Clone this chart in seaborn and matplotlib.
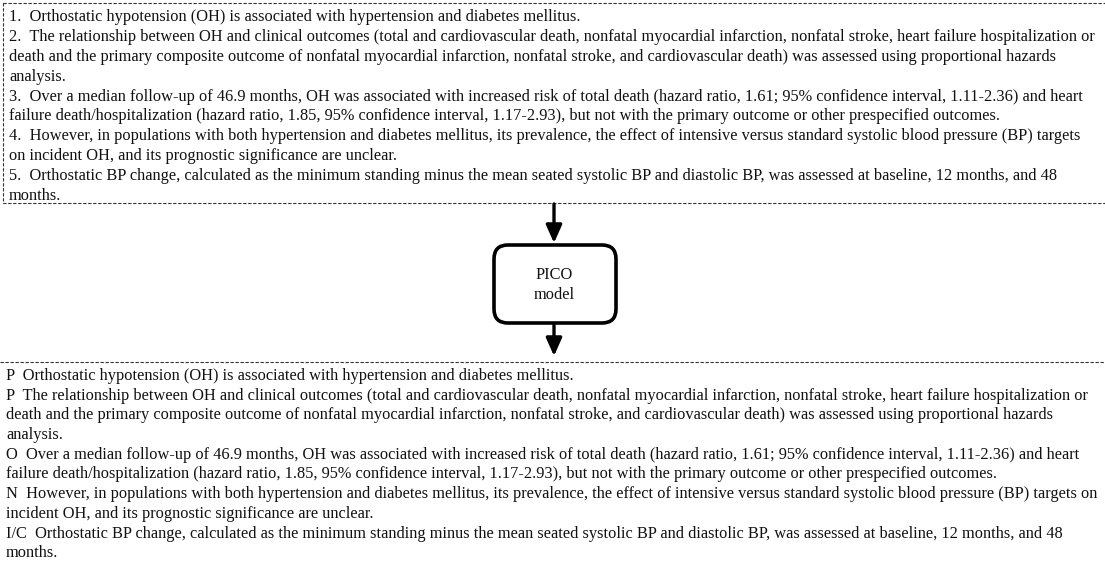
import matplotlib
matplotlib.use("Agg")
import matplotlib.pyplot as plt
import seaborn as sns
from matplotlib.patches import Rectangle, FancyBboxPatch

sns.set_theme(style="white")
plt.rcParams['font.family'] = ['Liberation Serif', 'DejaVu Serif']

# text of the two panels
top_lines = [
    "1.  Orthostatic hypotension (OH) is associated with hypertension and diabetes mellitus.",
    "2.  The relationship between OH and clinical outcomes (total and cardiovascular death, nonfatal myocardial infarction, nonfatal stroke, heart failure hospitalization or",
    "death and the primary composite outcome of nonfatal myocardial infarction, nonfatal stroke, and cardiovascular death) was assessed using proportional hazards",
    "analysis.",
    "3.  Over a median follow-up of 46.9 months, OH was associated with increased risk of total death (hazard ratio, 1.61; 95% confidence interval, 1.11-2.36) and heart",
    "failure death/hospitalization (hazard ratio, 1.85, 95% confidence interval, 1.17-2.93), but not with the primary outcome or other prespecified outcomes.",
    "4.  However, in populations with both hypertension and diabetes mellitus, its prevalence, the effect of intensive versus standard systolic blood pressure (BP) targets",
    "on incident OH, and its prognostic significance are unclear.",
    "5.  Orthostatic BP change, calculated as the minimum standing minus the mean seated systolic BP and diastolic BP, was assessed at baseline, 12 months, and 48",
    "months.",
]
bottom_lines = [
    "P  Orthostatic hypotension (OH) is associated with hypertension and diabetes mellitus.",
    "P  The relationship between OH and clinical outcomes (total and cardiovascular death, nonfatal myocardial infarction, nonfatal stroke, heart failure hospitalization or",
    "death and the primary composite outcome of nonfatal myocardial infarction, nonfatal stroke, and cardiovascular death) was assessed using proportional hazards",
    "analysis.",
    "O  Over a median follow-up of 46.9 months, OH was associated with increased risk of total death (hazard ratio, 1.61; 95% confidence interval, 1.11-2.36) and heart",
    "failure death/hospitalization (hazard ratio, 1.85, 95% confidence interval, 1.17-2.93), but not with the primary outcome or other prespecified outcomes.",
    "N  However, in populations with both hypertension and diabetes mellitus, its prevalence, the effect of intensive versus standard systolic blood pressure (BP) targets on",
    "incident OH, and its prognostic significance are unclear.",
    "I/C  Orthostatic BP change, calculated as the minimum standing minus the mean seated systolic BP and diastolic BP, was assessed at baseline, 12 months, and 48",
    "months.",
]
center_label = "PICO\nmodel"

W, H = 1105, 568
fig = plt.figure(figsize=(W / 100, H / 100), dpi=100)
ax = fig.add_axes([0, 0, 1, 1])
ax.set_xlim(0, W)
ax.set_ylim(H, 0)
ax.axis("off")

fs = 11.8
ink = "#111111"

# top dashed panel
ax.add_patch(Rectangle((3, 3), W + 10, 200, fill=False, ls=(0, (3, 1.5)),
                       lw=0.8, ec="#333333"))
for i, line in enumerate(top_lines):
    ax.text(9, 17 + i * 19.9, line, fontsize=fs, color=ink, va="center", ha="left")

# bottom panel top edge
ax.plot([0, W], [362, 362], ls=(0, (3, 1.5)), lw=0.8, color="#333333")
for i, line in enumerate(bottom_lines):
    ax.text(6, 376 + i * 19.7, line, fontsize=fs, color=ink, va="center", ha="left")

# arrows and rounded box
cx = 554
arrow_kw = dict(arrowstyle="-|>,head_length=0.9,head_width=0.4", lw=2.4, color="black",
                shrinkA=0, shrinkB=0)
ax.annotate("", xy=(cx, 243), xytext=(cx, 204), arrowprops=arrow_kw)
ax.annotate("", xy=(cx, 356), xytext=(cx, 325), arrowprops=arrow_kw)
ax.add_patch(FancyBboxPatch((494, 245), 122, 78, boxstyle="round,pad=0,rounding_size=14",
                            fill=False, lw=2.6, ec="black"))
ax.text(cx, 285, center_label, fontsize=fs, color=ink, ha="center", va="center",
        linespacing=1.35)

fig.savefig("out.png", dpi=100)
